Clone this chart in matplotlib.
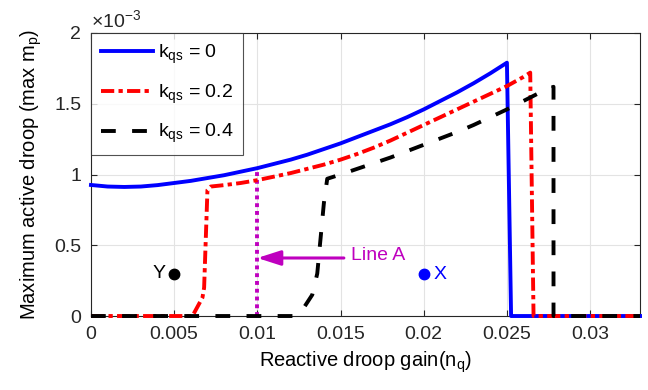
import matplotlib
matplotlib.use("Agg")
import matplotlib.pyplot as plt

plt.rcParams['font.family'] = ['Liberation Sans', 'DejaVu Sans']
plt.rcParams['mathtext.fontset'] = 'custom'
plt.rcParams['mathtext.rm'] = 'Liberation Sans'
plt.rcParams['mathtext.it'] = 'Liberation Sans'

# Maximum active droop (units of 1e-3) vs reactive droop gain
blue_x = [0.0, 0.001, 0.002, 0.003, 0.004, 0.005, 0.006, 0.007, 0.008, 0.009,
          0.010, 0.011, 0.012, 0.013, 0.014, 0.015, 0.016, 0.017, 0.018, 0.019,
          0.020, 0.021, 0.022, 0.023, 0.024, 0.025, 0.02525, 0.033]
blue_y = [0.926, 0.915, 0.912, 0.915, 0.925, 0.94, 0.955, 0.975, 0.995, 1.02,
          1.045, 1.075, 1.105, 1.14, 1.18, 1.22, 1.265, 1.31, 1.355, 1.405,
          1.46, 1.52, 1.58, 1.645, 1.715, 1.79, 0.0, 0.0]

red_x = [0.0, 0.0061, 0.0067, 0.0068, 0.0070, 0.0072, 0.008, 0.009, 0.010, 0.011,
         0.012, 0.013, 0.014, 0.015, 0.016, 0.017, 0.018, 0.019, 0.020, 0.021,
         0.022, 0.023, 0.024, 0.025, 0.026, 0.0264, 0.0266, 0.033]
red_y = [0.0, 0.0, 0.13, 0.2, 0.89, 0.915, 0.925, 0.94, 0.96, 0.985,
         1.01, 1.04, 1.07, 1.105, 1.145, 1.19, 1.24, 1.295, 1.35, 1.405,
         1.46, 1.515, 1.57, 1.625, 1.69, 1.72, 0.0, 0.0]

black_x = [0.0, 0.0122, 0.0128, 0.0133, 0.0136, 0.0138, 0.0140, 0.0142, 0.015, 0.016,
           0.017, 0.018, 0.019, 0.020, 0.021, 0.022, 0.023, 0.024, 0.025, 0.026,
           0.027, 0.0278, 0.0278, 0.033]
black_y = [0.0, 0.0, 0.06, 0.15, 0.30, 0.55, 0.80, 0.97, 1.0, 1.04,
           1.08, 1.12, 1.165, 1.21, 1.255, 1.30, 1.35, 1.405, 1.46, 1.52,
           1.58, 1.62, 0.0, 0.0]

series_labels = ['$k_{qs}$ = 0', '$k_{qs}$ = 0.2', '$k_{qs}$ = 0.4']

line_a_x = 0.010
line_a_top = 1.045
arrow_y = 0.41
arrow_tail_x = 0.0152

point_y = (0.005, 0.30)
point_x = (0.020, 0.30)

xticks = [0, 0.005, 0.01, 0.015, 0.02, 0.025, 0.03]
xtick_labels = ['0', '0.005', '0.01', '0.015', '0.02', '0.025', '0.03']
yticks = [0, 0.5, 1, 1.5, 2]
ytick_labels = ['0', '0.5', '1', '1.5', '2']

axis_color = '#262626'
magenta = '#BF00BF'
fs = 14

fig = plt.figure(figsize=(6.48, 3.90), dpi=100)
ax = fig.add_axes([0.1404, 0.1897, 0.8473, 0.7257])

ax.grid(True, color='#E3E3E3', linewidth=0.8)
ax.set_axisbelow(True)

lw = 2.8
ax.plot(blue_x, blue_y, color='#0000FF', linewidth=lw, label=series_labels[0],
        clip_on=False, zorder=3)
ax.plot(red_x, red_y, color='#FF0000', linewidth=lw, linestyle=(0, (3.4, 1.1, 1.1, 1.1)),
        label=series_labels[1], clip_on=False, zorder=4)
ax.plot(black_x, black_y, color='black', linewidth=lw, linestyle=(0, (3.8, 4.2)),
        label=series_labels[2], clip_on=False, zorder=5)

# Line A
ax.plot([line_a_x, line_a_x], [0, line_a_top], color=magenta, linewidth=2.8,
        linestyle=(0, (1.0, 1.0)), zorder=2, clip_on=False)
ax.annotate('', xy=(line_a_x, arrow_y), xytext=(arrow_tail_x, arrow_y),
            arrowprops=dict(arrowstyle='-|>,head_length=1.4,head_width=0.45',
                            color=magenta, lw=2.2, shrinkA=0, shrinkB=0),
            zorder=6)
ax.text(arrow_tail_x + 0.0004, arrow_y + 0.02, 'Line A', color=magenta, fontsize=fs,
        va='center', ha='left')

# Operating points
ax.plot([point_y[0]], [point_y[1]], 'o', color='black', markersize=7.5, zorder=6)
ax.text(point_y[0] - 0.0005, point_y[1], 'Y', color='black', fontsize=fs,
        va='center', ha='right')
ax.plot([point_x[0]], [point_x[1]], 'o', color='#0000FF', markersize=7.5, zorder=6)
ax.text(point_x[0] + 0.0006, point_x[1] - 0.01, 'X', color='#0000FF', fontsize=fs,
        va='center', ha='left')

ax.set_xlim(0, 0.033)
ax.set_ylim(0, 2)
ax.set_xticks(xticks)
ax.set_xticklabels(xtick_labels)
ax.set_yticks(yticks)
ax.set_yticklabels(ytick_labels)
ax.tick_params(direction='in', length=4, width=0.8, colors=axis_color,
               labelsize=fs, top=True, right=True, pad=7)
for s in ax.spines.values():
    s.set_color(axis_color)
    s.set_linewidth(0.8)

ax.set_xlabel('Reactive droop gain(n$_{q}$)', fontsize=14.5, color='black', labelpad=5)
ax.set_ylabel('Maximum active droop (max m$_{p}$)', fontsize=14.5, color='black', labelpad=7)

ax.text(0.0, 1.008, r'$\times$10$^{-3}$', transform=ax.transAxes, fontsize=fs,
        color=axis_color, ha='left', va='bottom')

leg = ax.legend(loc='upper left', fontsize=fs, handlelength=2.7, handletextpad=0.25,
                borderaxespad=0, frameon=True, fancybox=False, borderpad=0.5,
                labelspacing=0.85)
leg.get_frame().set_edgecolor(axis_color)
leg.get_frame().set_linewidth(0.8)

fig.savefig('out.png', dpi=100)
